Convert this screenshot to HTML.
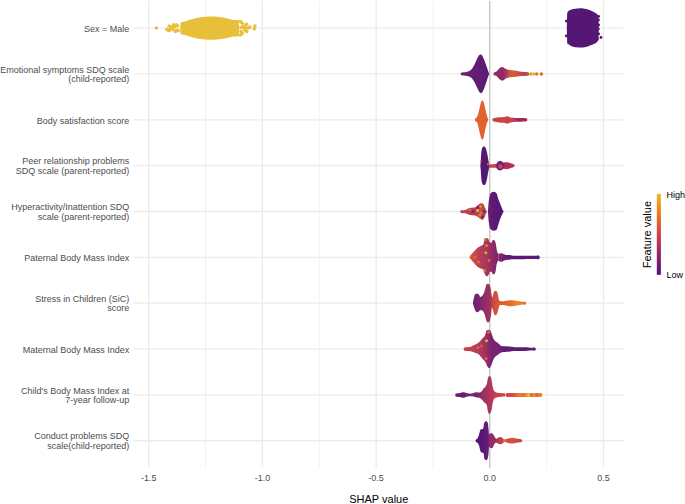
<!DOCTYPE html><html><head><meta charset="utf-8"><style>html,body{margin:0;padding:0;background:#fff;overflow:hidden;width:685px;height:504px;}svg{display:block;}text{font-family:"Liberation Sans",sans-serif;}.ax{font-size:9px;fill:#4d4d4d;}</style></head><body>
<svg width="685" height="504" viewBox="0 0 685 504">
<defs><linearGradient id="leg" x1="0" y1="1" x2="0" y2="0"><stop offset="0" stop-color="#521672"/><stop offset="0.083" stop-color="#641d72"/><stop offset="0.167" stop-color="#7f1e6c"/><stop offset="0.25" stop-color="#932667"/><stop offset="0.333" stop-color="#a82e5f"/><stop offset="0.417" stop-color="#bc3754"/><stop offset="0.5" stop-color="#cc4248"/><stop offset="0.583" stop-color="#dd513a"/><stop offset="0.667" stop-color="#e4622e"/><stop offset="0.75" stop-color="#ee781f"/><stop offset="0.833" stop-color="#f08e15"/><stop offset="0.917" stop-color="#eea520"/><stop offset="1" stop-color="#e8bf38"/></linearGradient><linearGradient id="g0" gradientUnits="userSpaceOnUse" x1="185" y1="0" x2="240" y2="0"><stop offset="0.000" stop-color="#e8bf38"/><stop offset="1.000" stop-color="#e8bf38"/></linearGradient><linearGradient id="g1" gradientUnits="userSpaceOnUse" x1="566" y1="0" x2="600" y2="0"><stop offset="0.000" stop-color="#541774"/><stop offset="1.000" stop-color="#541774"/></linearGradient><linearGradient id="g2" gradientUnits="userSpaceOnUse" x1="461" y1="0" x2="489" y2="0"><stop offset="0.000" stop-color="#6e2272"/><stop offset="0.321" stop-color="#66206f"/><stop offset="0.607" stop-color="#601c74"/><stop offset="1.000" stop-color="#5a1a76"/></linearGradient><linearGradient id="g3" gradientUnits="userSpaceOnUse" x1="494" y1="0" x2="529" y2="0"><stop offset="0.000" stop-color="#b0405a"/><stop offset="0.057" stop-color="#902a68"/><stop offset="0.257" stop-color="#8e2a6a"/><stop offset="0.371" stop-color="#b04054"/><stop offset="0.457" stop-color="#d45a3c"/><stop offset="0.600" stop-color="#d0583e"/><stop offset="0.714" stop-color="#c04c4c"/><stop offset="0.857" stop-color="#b24456"/><stop offset="1.000" stop-color="#c85045"/></linearGradient><linearGradient id="g4" gradientUnits="userSpaceOnUse" x1="475" y1="0" x2="488" y2="0"><stop offset="0.000" stop-color="#e4622e"/><stop offset="1.000" stop-color="#e4622e"/></linearGradient><linearGradient id="g5" gradientUnits="userSpaceOnUse" x1="493" y1="0" x2="527" y2="0"><stop offset="0.000" stop-color="#cc4248"/><stop offset="0.529" stop-color="#cc4248"/><stop offset="0.632" stop-color="#b83a55"/><stop offset="0.706" stop-color="#9c2a62"/><stop offset="1.000" stop-color="#a42a5e"/></linearGradient><linearGradient id="g6" gradientUnits="userSpaceOnUse" x1="480" y1="0" x2="490" y2="0"><stop offset="0.000" stop-color="#541774"/><stop offset="1.000" stop-color="#541774"/></linearGradient><linearGradient id="g7" gradientUnits="userSpaceOnUse" x1="489.5" y1="0" x2="514" y2="0"><stop offset="0.000" stop-color="#d04040"/><stop offset="0.245" stop-color="#d04040"/><stop offset="0.298" stop-color="#6a1e74"/><stop offset="0.429" stop-color="#6e2072"/><stop offset="0.551" stop-color="#6a1e74"/><stop offset="0.612" stop-color="#9a2c60"/><stop offset="0.673" stop-color="#b03058"/><stop offset="1.000" stop-color="#b83058"/></linearGradient><linearGradient id="g8" gradientUnits="userSpaceOnUse" x1="461" y1="0" x2="485" y2="0"><stop offset="0.000" stop-color="#c84048"/><stop offset="0.375" stop-color="#b83a54"/><stop offset="0.625" stop-color="#b83e52"/><stop offset="0.792" stop-color="#c8503e"/><stop offset="1.000" stop-color="#b04050"/></linearGradient><linearGradient id="g9" gradientUnits="userSpaceOnUse" x1="488" y1="0" x2="500" y2="0"><stop offset="0.000" stop-color="#6e2272"/><stop offset="0.333" stop-color="#5e1a74"/><stop offset="1.000" stop-color="#561774"/></linearGradient><linearGradient id="g10" gradientUnits="userSpaceOnUse" x1="470" y1="0" x2="498" y2="0"><stop offset="0.000" stop-color="#d85838"/><stop offset="0.143" stop-color="#cc4a45"/><stop offset="0.321" stop-color="#b8405a"/><stop offset="0.571" stop-color="#a8385e"/><stop offset="0.750" stop-color="#962e64"/><stop offset="0.893" stop-color="#842868"/><stop offset="1.000" stop-color="#822668"/></linearGradient><linearGradient id="g11" gradientUnits="userSpaceOnUse" x1="498" y1="0" x2="540" y2="0"><stop offset="0.000" stop-color="#8a2868"/><stop offset="0.167" stop-color="#6a1f74"/><stop offset="0.333" stop-color="#5a1876"/><stop offset="1.000" stop-color="#5e1a76"/></linearGradient><linearGradient id="g12" gradientUnits="userSpaceOnUse" x1="473" y1="0" x2="499" y2="0"><stop offset="0.000" stop-color="#762270"/><stop offset="0.269" stop-color="#7a2470"/><stop offset="0.423" stop-color="#8e2c66"/><stop offset="0.615" stop-color="#9a3260"/><stop offset="0.712" stop-color="#b03e52"/><stop offset="0.769" stop-color="#cc4a45"/><stop offset="1.000" stop-color="#d85a38"/></linearGradient><linearGradient id="g13" gradientUnits="userSpaceOnUse" x1="500" y1="0" x2="526" y2="0"><stop offset="0.000" stop-color="#e05a30"/><stop offset="0.385" stop-color="#e46a2c"/><stop offset="0.654" stop-color="#e8882a"/><stop offset="0.846" stop-color="#e87a2c"/><stop offset="1.000" stop-color="#e06a30"/></linearGradient><linearGradient id="g14" gradientUnits="userSpaceOnUse" x1="464" y1="0" x2="500" y2="0"><stop offset="0.000" stop-color="#c84048"/><stop offset="0.222" stop-color="#c44250"/><stop offset="0.417" stop-color="#b03a5c"/><stop offset="0.611" stop-color="#9c3062"/><stop offset="0.750" stop-color="#7a2470"/><stop offset="1.000" stop-color="#762270"/></linearGradient><linearGradient id="g15" gradientUnits="userSpaceOnUse" x1="499" y1="0" x2="536" y2="0"><stop offset="0.000" stop-color="#7a2470"/><stop offset="0.108" stop-color="#621c74"/><stop offset="1.000" stop-color="#5e1a76"/></linearGradient><linearGradient id="g16" gradientUnits="userSpaceOnUse" x1="456" y1="0" x2="505" y2="0"><stop offset="0.000" stop-color="#661e72"/><stop offset="0.245" stop-color="#6e2272"/><stop offset="0.449" stop-color="#7a2470"/><stop offset="0.551" stop-color="#9a2e64"/><stop offset="0.653" stop-color="#a83262"/><stop offset="0.735" stop-color="#b83a58"/><stop offset="0.816" stop-color="#c8404c"/><stop offset="1.000" stop-color="#cc4448"/></linearGradient><linearGradient id="g17" gradientUnits="userSpaceOnUse" x1="506" y1="0" x2="542" y2="0"><stop offset="0.000" stop-color="#d4404a"/><stop offset="0.250" stop-color="#d8484a"/><stop offset="0.306" stop-color="#e4702e"/><stop offset="0.583" stop-color="#e87e2c"/><stop offset="0.619" stop-color="#e8b834"/><stop offset="0.653" stop-color="#e8862c"/><stop offset="0.806" stop-color="#e0703a"/><stop offset="1.000" stop-color="#e07a30"/></linearGradient><linearGradient id="g18" gradientUnits="userSpaceOnUse" x1="476" y1="0" x2="489" y2="0"><stop offset="0.000" stop-color="#541578"/><stop offset="0.538" stop-color="#581878"/><stop offset="0.846" stop-color="#621c76"/><stop offset="1.000" stop-color="#661e74"/></linearGradient><linearGradient id="g19" gradientUnits="userSpaceOnUse" x1="489" y1="0" x2="522" y2="0"><stop offset="0.000" stop-color="#922a68"/><stop offset="0.182" stop-color="#962a68"/><stop offset="0.258" stop-color="#b83a58"/><stop offset="0.394" stop-color="#c04450"/><stop offset="0.470" stop-color="#e0802a"/><stop offset="0.515" stop-color="#d04a40"/><stop offset="0.758" stop-color="#d85040"/><stop offset="1.000" stop-color="#c03a50"/></linearGradient></defs>
<rect width="685" height="504" fill="#fff"/>
<line x1="205.55" y1="1.0" x2="205.55" y2="467.8" stroke="#f0f0f0" stroke-width="0.9"/>
<line x1="319.25" y1="1.0" x2="319.25" y2="467.8" stroke="#f0f0f0" stroke-width="0.9"/>
<line x1="432.95" y1="1.0" x2="432.95" y2="467.8" stroke="#f0f0f0" stroke-width="0.9"/>
<line x1="546.65" y1="1.0" x2="546.65" y2="467.8" stroke="#f0f0f0" stroke-width="0.9"/>
<line x1="148.70" y1="1.0" x2="148.70" y2="467.8" stroke="#ebebeb" stroke-width="1.3"/>
<line x1="262.40" y1="1.0" x2="262.40" y2="467.8" stroke="#ebebeb" stroke-width="1.3"/>
<line x1="376.10" y1="1.0" x2="376.10" y2="467.8" stroke="#ebebeb" stroke-width="1.3"/>
<line x1="603.50" y1="1.0" x2="603.50" y2="467.8" stroke="#ebebeb" stroke-width="1.3"/>
<line x1="134" y1="28.10" x2="623.5" y2="28.10" stroke="#ebebeb" stroke-width="1.3"/>
<line x1="134" y1="73.95" x2="623.5" y2="73.95" stroke="#ebebeb" stroke-width="1.3"/>
<line x1="134" y1="119.80" x2="623.5" y2="119.80" stroke="#ebebeb" stroke-width="1.3"/>
<line x1="134" y1="165.65" x2="623.5" y2="165.65" stroke="#ebebeb" stroke-width="1.3"/>
<line x1="134" y1="211.50" x2="623.5" y2="211.50" stroke="#ebebeb" stroke-width="1.3"/>
<line x1="134" y1="257.35" x2="623.5" y2="257.35" stroke="#ebebeb" stroke-width="1.3"/>
<line x1="134" y1="303.20" x2="623.5" y2="303.20" stroke="#ebebeb" stroke-width="1.3"/>
<line x1="134" y1="349.05" x2="623.5" y2="349.05" stroke="#ebebeb" stroke-width="1.3"/>
<line x1="134" y1="394.90" x2="623.5" y2="394.90" stroke="#ebebeb" stroke-width="1.3"/>
<line x1="134" y1="440.75" x2="623.5" y2="440.75" stroke="#ebebeb" stroke-width="1.3"/>
<line x1="489.80" y1="1.0" x2="489.80" y2="467.8" stroke="#bdbdbd" stroke-width="1.2"/>
<path d="M180.20,28.10 L180.55,23.08 L180.90,22.62 L181.25,22.43 L181.60,22.31 L181.95,22.22 L182.30,22.11 L182.65,22.01 L183.00,21.93 L183.35,21.86 L183.70,21.78 L184.05,21.69 L184.40,21.59 L184.75,21.49 L185.10,21.38 L185.45,21.28 L185.80,21.16 L186.15,21.05 L186.50,20.93 L186.85,20.80 L187.20,20.68 L187.55,20.55 L187.90,20.43 L188.25,20.31 L188.60,20.19 L188.95,20.08 L189.30,19.97 L189.65,19.85 L190.00,19.75 L190.35,19.64 L190.70,19.53 L191.05,19.43 L191.40,19.33 L191.75,19.23 L192.10,19.13 L192.45,19.03 L192.80,18.94 L193.15,18.84 L193.50,18.75 L193.85,18.66 L194.20,18.58 L194.55,18.49 L194.90,18.41 L195.25,18.33 L195.60,18.25 L195.95,18.17 L196.30,18.09 L196.65,18.02 L197.00,17.94 L197.35,17.87 L197.70,17.80 L198.05,17.73 L198.40,17.67 L198.75,17.60 L199.10,17.54 L199.45,17.48 L199.80,17.42 L200.15,17.37 L200.50,17.31 L200.85,17.26 L201.20,17.21 L201.55,17.16 L201.90,17.11 L202.25,17.06 L202.60,17.02 L202.95,16.98 L203.30,16.94 L203.65,16.90 L204.00,16.86 L204.35,16.83 L204.70,16.79 L205.05,16.76 L205.40,16.73 L205.75,16.70 L206.10,16.68 L206.45,16.65 L206.80,16.63 L207.15,16.61 L207.50,16.59 L207.85,16.57 L208.20,16.56 L208.55,16.54 L208.90,16.53 L209.25,16.52 L209.60,16.51 L209.95,16.51 L210.30,16.51 L210.65,16.51 L211.00,16.51 L211.35,16.51 L211.70,16.51 L212.05,16.51 L212.40,16.51 L212.75,16.52 L213.10,16.53 L213.45,16.54 L213.80,16.56 L214.15,16.57 L214.50,16.59 L214.85,16.61 L215.20,16.63 L215.55,16.65 L215.90,16.68 L216.25,16.70 L216.60,16.73 L216.95,16.76 L217.30,16.79 L217.65,16.83 L218.00,16.86 L218.35,16.90 L218.70,16.94 L219.05,16.98 L219.40,17.02 L219.75,17.06 L220.10,17.11 L220.45,17.16 L220.80,17.21 L221.15,17.26 L221.50,17.31 L221.85,17.37 L222.20,17.42 L222.55,17.48 L222.90,17.54 L223.25,17.60 L223.60,17.67 L223.95,17.73 L224.30,17.80 L224.65,17.87 L225.00,17.94 L225.35,18.02 L225.70,18.09 L226.05,18.17 L226.40,18.25 L226.75,18.33 L227.10,18.41 L227.45,18.49 L227.80,18.58 L228.15,18.66 L228.50,18.75 L228.85,18.84 L229.20,18.94 L229.55,19.03 L229.90,19.13 L230.25,19.23 L230.60,19.34 L230.95,19.45 L231.30,19.56 L231.65,19.66 L232.00,19.75 L232.35,19.83 L232.70,19.91 L233.05,19.99 L233.40,20.05 L233.75,20.09 L234.10,20.10 L234.45,20.10 L234.80,20.10 L235.15,20.10 L235.50,20.10 L235.85,20.10 L236.20,20.10 L236.55,20.10 L236.90,20.10 L237.25,20.10 L237.60,20.10 L237.95,20.10 L238.30,20.21 L238.65,20.61 L239.00,23.60 L239.30,28.10 L239.30,28.10 L239.00,32.88 L238.65,36.00 L238.30,36.32 L237.95,36.40 L237.60,36.40 L237.25,36.40 L236.90,36.40 L236.55,36.40 L236.20,36.40 L235.85,36.40 L235.50,36.40 L235.15,36.40 L234.80,36.40 L234.45,36.40 L234.10,36.40 L233.75,36.41 L233.40,36.43 L233.05,36.48 L232.70,36.54 L232.35,36.60 L232.00,36.66 L231.65,36.74 L231.30,36.83 L230.95,36.94 L230.60,37.05 L230.25,37.15 L229.90,37.25 L229.55,37.34 L229.20,37.43 L228.85,37.52 L228.50,37.61 L228.15,37.69 L227.80,37.77 L227.45,37.86 L227.10,37.94 L226.75,38.01 L226.40,38.09 L226.05,38.16 L225.70,38.24 L225.35,38.31 L225.00,38.38 L224.65,38.45 L224.30,38.51 L223.95,38.58 L223.60,38.64 L223.25,38.70 L222.90,38.76 L222.55,38.82 L222.20,38.87 L221.85,38.93 L221.50,38.98 L221.15,39.03 L220.80,39.08 L220.45,39.13 L220.10,39.17 L219.75,39.21 L219.40,39.26 L219.05,39.30 L218.70,39.34 L218.35,39.37 L218.00,39.41 L217.65,39.44 L217.30,39.47 L216.95,39.50 L216.60,39.53 L216.25,39.56 L215.90,39.58 L215.55,39.60 L215.20,39.63 L214.85,39.65 L214.50,39.67 L214.15,39.68 L213.80,39.69 L213.45,39.71 L213.10,39.72 L212.75,39.73 L212.40,39.74 L212.05,39.74 L211.70,39.74 L211.35,39.74 L211.00,39.74 L210.65,39.74 L210.30,39.74 L209.95,39.74 L209.60,39.74 L209.25,39.73 L208.90,39.72 L208.55,39.71 L208.20,39.69 L207.85,39.68 L207.50,39.67 L207.15,39.65 L206.80,39.63 L206.45,39.60 L206.10,39.58 L205.75,39.56 L205.40,39.53 L205.05,39.50 L204.70,39.47 L204.35,39.44 L204.00,39.41 L203.65,39.37 L203.30,39.34 L202.95,39.30 L202.60,39.26 L202.25,39.21 L201.90,39.17 L201.55,39.13 L201.20,39.08 L200.85,39.03 L200.50,38.98 L200.15,38.93 L199.80,38.87 L199.45,38.82 L199.10,38.76 L198.75,38.70 L198.40,38.64 L198.05,38.58 L197.70,38.51 L197.35,38.45 L197.00,38.38 L196.65,38.31 L196.30,38.24 L195.95,38.16 L195.60,38.09 L195.25,38.01 L194.90,37.94 L194.55,37.86 L194.20,37.77 L193.85,37.69 L193.50,37.61 L193.15,37.52 L192.80,37.43 L192.45,37.34 L192.10,37.25 L191.75,37.16 L191.40,37.06 L191.05,36.96 L190.70,36.87 L190.35,36.76 L190.00,36.66 L189.65,36.56 L189.30,36.45 L188.95,36.35 L188.60,36.24 L188.25,36.13 L187.90,36.01 L187.55,35.90 L187.20,35.77 L186.85,35.65 L186.50,35.53 L186.15,35.42 L185.80,35.32 L185.45,35.23 L185.10,35.15 L184.75,35.06 L184.40,34.99 L184.05,34.91 L183.70,34.84 L183.35,34.78 L183.00,34.72 L182.65,34.66 L182.30,34.58 L181.95,34.48 L181.60,34.38 L181.25,34.23 L180.90,33.96 L180.55,33.40 L180.20,28.10Z" fill="url(#g0)"/>
<path d="M566.80,28.10 L567.15,13.42 L567.50,12.17 L567.85,11.64 L568.20,11.33 L568.55,11.11 L568.90,10.85 L569.25,10.60 L569.60,10.37 L569.95,10.16 L570.30,9.97 L570.65,9.81 L571.00,9.67 L571.35,9.55 L571.70,9.44 L572.05,9.35 L572.40,9.26 L572.75,9.17 L573.10,9.09 L573.45,9.02 L573.80,8.95 L574.15,8.89 L574.50,8.83 L574.85,8.78 L575.20,8.73 L575.55,8.68 L575.90,8.64 L576.25,8.60 L576.60,8.57 L576.95,8.54 L577.30,8.51 L577.65,8.47 L578.00,8.44 L578.35,8.42 L578.70,8.39 L579.05,8.37 L579.40,8.35 L579.75,8.33 L580.10,8.32 L580.45,8.31 L580.80,8.30 L581.15,8.30 L581.50,8.31 L581.85,8.33 L582.20,8.35 L582.55,8.39 L582.90,8.42 L583.25,8.47 L583.60,8.52 L583.95,8.57 L584.30,8.63 L584.65,8.69 L585.00,8.75 L585.35,8.82 L585.70,8.88 L586.05,8.95 L586.40,9.03 L586.75,9.11 L587.10,9.21 L587.45,9.32 L587.80,9.43 L588.15,9.55 L588.50,9.68 L588.85,9.81 L589.20,9.94 L589.55,10.08 L589.90,10.22 L590.25,10.36 L590.60,10.50 L590.95,10.64 L591.30,10.80 L591.65,10.95 L592.00,11.12 L592.35,11.29 L592.70,11.47 L593.05,11.65 L593.40,11.84 L593.75,12.03 L594.10,12.23 L594.45,12.43 L594.80,12.62 L595.15,12.81 L595.50,13.00 L595.85,13.21 L596.20,13.44 L596.55,13.70 L596.90,14.00 L597.25,14.35 L597.60,14.71 L597.95,15.25 L598.30,16.21 L598.65,22.53 L598.80,28.10 L598.80,28.10 L598.65,33.67 L598.30,39.99 L597.95,40.95 L597.60,41.49 L597.25,41.85 L596.90,42.20 L596.55,42.51 L596.20,42.78 L595.85,43.02 L595.50,43.23 L595.15,43.42 L594.80,43.60 L594.45,43.77 L594.10,43.95 L593.75,44.11 L593.40,44.26 L593.05,44.40 L592.70,44.54 L592.35,44.67 L592.00,44.80 L591.65,44.92 L591.30,45.04 L590.95,45.17 L590.60,45.30 L590.25,45.43 L589.90,45.57 L589.55,45.72 L589.20,45.86 L588.85,46.00 L588.50,46.14 L588.15,46.28 L587.80,46.42 L587.45,46.54 L587.10,46.66 L586.75,46.77 L586.40,46.87 L586.05,46.95 L585.70,47.02 L585.35,47.08 L585.00,47.15 L584.65,47.21 L584.30,47.27 L583.95,47.33 L583.60,47.38 L583.25,47.43 L582.90,47.48 L582.55,47.52 L582.20,47.55 L581.85,47.57 L581.50,47.59 L581.15,47.60 L580.80,47.60 L580.45,47.59 L580.10,47.59 L579.75,47.57 L579.40,47.56 L579.05,47.54 L578.70,47.51 L578.35,47.49 L578.00,47.46 L577.65,47.43 L577.30,47.40 L576.95,47.36 L576.60,47.33 L576.25,47.29 L575.90,47.26 L575.55,47.21 L575.20,47.16 L574.85,47.10 L574.50,47.03 L574.15,46.96 L573.80,46.88 L573.45,46.80 L573.10,46.70 L572.75,46.61 L572.40,46.50 L572.05,46.39 L571.70,46.27 L571.35,46.14 L571.00,45.97 L570.65,45.75 L570.30,45.51 L569.95,45.24 L569.60,44.97 L569.25,44.70 L568.90,44.44 L568.55,44.21 L568.20,44.07 L567.85,43.93 L567.50,43.68 L567.15,42.84 L566.80,28.10Z" fill="url(#g1)"/>
<path d="M460.50,73.95 L460.85,73.32 L461.20,72.77 L461.55,72.54 L461.90,72.48 L462.25,72.44 L462.60,72.41 L462.95,72.39 L463.30,72.37 L463.65,72.35 L464.00,72.34 L464.35,72.31 L464.70,72.28 L465.05,72.24 L465.40,72.19 L465.75,72.13 L466.10,72.06 L466.45,71.98 L466.80,71.89 L467.15,71.80 L467.50,71.69 L467.85,71.58 L468.20,71.46 L468.55,71.33 L468.90,71.19 L469.25,71.02 L469.60,70.83 L469.95,70.61 L470.30,70.38 L470.65,70.12 L471.00,69.83 L471.35,69.52 L471.70,69.12 L472.05,68.67 L472.40,68.17 L472.75,67.63 L473.10,67.07 L473.45,66.50 L473.80,65.87 L474.15,65.19 L474.50,64.47 L474.85,63.73 L475.20,62.98 L475.55,62.25 L475.90,61.48 L476.25,60.68 L476.60,59.88 L476.95,59.09 L477.30,58.33 L477.65,57.64 L478.00,56.99 L478.35,56.35 L478.70,55.77 L479.05,55.30 L479.40,54.97 L479.75,54.68 L480.10,54.48 L480.45,54.46 L480.80,54.51 L481.15,54.60 L481.50,54.76 L481.85,55.15 L482.20,55.68 L482.55,56.27 L482.90,56.89 L483.25,57.62 L483.60,58.43 L483.95,59.29 L484.30,60.19 L484.65,61.08 L485.00,62.00 L485.35,62.96 L485.70,63.96 L486.05,64.96 L486.40,65.95 L486.75,66.93 L487.10,67.91 L487.45,68.90 L487.80,69.89 L488.15,70.89 L488.50,71.90 L488.85,72.92 L489.20,73.95 L489.20,73.95 L488.85,74.79 L488.50,75.68 L488.15,76.61 L487.80,77.61 L487.45,78.68 L487.10,79.78 L486.75,80.88 L486.40,81.95 L486.05,83.00 L485.70,84.04 L485.35,85.07 L485.00,86.07 L484.65,87.02 L484.30,87.93 L483.95,88.83 L483.60,89.69 L483.25,90.47 L482.90,91.15 L482.55,91.77 L482.20,92.34 L481.85,92.75 L481.50,92.94 L481.15,93.08 L480.80,93.15 L480.45,93.09 L480.10,92.84 L479.75,92.50 L479.40,92.12 L479.05,91.61 L478.70,90.98 L478.35,90.28 L478.00,89.56 L477.65,88.85 L477.30,88.12 L476.95,87.35 L476.60,86.55 L476.25,85.75 L475.90,84.98 L475.55,84.25 L475.20,83.56 L474.85,82.89 L474.50,82.23 L474.15,81.61 L473.80,81.01 L473.45,80.47 L473.10,79.97 L472.75,79.48 L472.40,79.01 L472.05,78.57 L471.70,78.18 L471.35,77.85 L471.00,77.58 L470.65,77.35 L470.30,77.13 L469.95,76.94 L469.60,76.77 L469.25,76.61 L468.90,76.48 L468.55,76.36 L468.20,76.27 L467.85,76.18 L467.50,76.10 L467.15,76.02 L466.80,75.95 L466.45,75.89 L466.10,75.83 L465.75,75.77 L465.40,75.72 L465.05,75.66 L464.70,75.60 L464.35,75.56 L464.00,75.53 L463.65,75.49 L463.30,75.46 L462.95,75.43 L462.60,75.38 L462.25,75.33 L461.90,75.26 L461.55,75.16 L461.20,74.94 L460.85,74.48 L460.50,73.95Z" fill="url(#g2)"/>
<path d="M493.30,73.95 L493.65,72.97 L494.00,72.48 L494.35,72.29 L494.70,72.17 L495.05,72.08 L495.40,72.00 L495.75,71.90 L496.10,71.75 L496.45,71.51 L496.80,71.19 L497.15,70.82 L497.50,70.42 L497.85,70.02 L498.20,69.65 L498.55,69.27 L498.90,68.87 L499.25,68.46 L499.60,68.10 L499.95,67.80 L500.30,67.60 L500.65,67.44 L501.00,67.29 L501.35,67.17 L501.70,67.09 L502.05,67.05 L502.40,67.08 L502.75,67.20 L503.10,67.37 L503.45,67.57 L503.80,67.78 L504.15,67.98 L504.50,68.14 L504.85,68.32 L505.20,68.49 L505.55,68.67 L505.90,68.83 L506.25,68.99 L506.60,69.13 L506.95,69.27 L507.30,69.41 L507.65,69.54 L508.00,69.65 L508.35,69.75 L508.70,69.83 L509.05,69.89 L509.40,69.94 L509.75,69.98 L510.10,70.02 L510.45,70.05 L510.80,70.08 L511.15,70.11 L511.50,70.15 L511.85,70.18 L512.20,70.21 L512.55,70.26 L512.90,70.30 L513.25,70.35 L513.60,70.39 L513.95,70.44 L514.30,70.49 L514.65,70.54 L515.00,70.59 L515.35,70.65 L515.70,70.70 L516.05,70.76 L516.40,70.82 L516.75,70.88 L517.10,70.95 L517.45,71.02 L517.80,71.10 L518.15,71.18 L518.50,71.26 L518.85,71.34 L519.20,71.41 L519.55,71.48 L519.90,71.54 L520.25,71.58 L520.60,71.63 L520.95,71.67 L521.30,71.71 L521.65,71.74 L522.00,71.78 L522.35,71.81 L522.70,71.84 L523.05,71.87 L523.40,71.90 L523.75,71.93 L524.10,71.96 L524.45,71.98 L524.80,72.00 L525.15,72.02 L525.50,72.03 L525.85,72.04 L526.20,72.06 L526.55,72.07 L526.90,72.09 L527.25,72.12 L527.60,72.15 L527.95,72.19 L528.30,72.23 L528.65,72.42 L529.00,72.96 L529.35,73.66 L529.50,73.95 L529.50,73.95 L529.35,74.24 L529.00,74.94 L528.65,75.48 L528.30,75.67 L527.95,75.71 L527.60,75.75 L527.25,75.79 L526.90,75.82 L526.55,75.84 L526.20,75.86 L525.85,75.87 L525.50,75.89 L525.15,75.90 L524.80,75.91 L524.45,75.93 L524.10,75.94 L523.75,75.96 L523.40,75.98 L523.05,76.00 L522.70,76.01 L522.35,76.03 L522.00,76.04 L521.65,76.06 L521.30,76.07 L520.95,76.09 L520.60,76.11 L520.25,76.13 L519.90,76.16 L519.55,76.19 L519.20,76.24 L518.85,76.29 L518.50,76.35 L518.15,76.41 L517.80,76.47 L517.45,76.53 L517.10,76.58 L516.75,76.63 L516.40,76.67 L516.05,76.71 L515.70,76.75 L515.35,76.78 L515.00,76.82 L514.65,76.85 L514.30,76.88 L513.95,76.91 L513.60,76.94 L513.25,76.98 L512.90,77.01 L512.55,77.04 L512.20,77.08 L511.85,77.11 L511.50,77.14 L511.15,77.17 L510.80,77.21 L510.45,77.24 L510.10,77.27 L509.75,77.31 L509.40,77.36 L509.05,77.41 L508.70,77.47 L508.35,77.54 L508.00,77.64 L507.65,77.75 L507.30,77.88 L506.95,78.01 L506.60,78.16 L506.25,78.32 L505.90,78.53 L505.55,78.77 L505.20,79.03 L504.85,79.29 L504.50,79.53 L504.15,79.74 L503.80,79.97 L503.45,80.20 L503.10,80.41 L502.75,80.57 L502.40,80.65 L502.05,80.63 L501.70,80.53 L501.35,80.37 L501.00,80.17 L500.65,79.94 L500.30,79.71 L499.95,79.48 L499.60,79.20 L499.25,78.88 L498.90,78.54 L498.55,78.19 L498.20,77.85 L497.85,77.48 L497.50,77.06 L497.15,76.63 L496.80,76.24 L496.45,75.93 L496.10,75.75 L495.75,75.67 L495.40,75.61 L495.05,75.58 L494.70,75.54 L494.35,75.49 L494.00,75.39 L493.65,74.96 L493.30,73.95Z" fill="url(#g3)"/>
<path d="M474.80,119.80 L475.15,118.86 L475.50,118.20 L475.85,117.88 L476.20,117.66 L476.55,117.44 L476.90,117.07 L477.25,116.42 L477.60,115.55 L477.95,114.55 L478.30,113.45 L478.65,112.11 L479.00,110.62 L479.35,109.11 L479.70,107.55 L480.05,105.88 L480.40,104.30 L480.75,103.04 L481.10,102.03 L481.45,101.28 L481.80,100.78 L482.15,100.44 L482.50,100.44 L482.85,100.67 L483.20,101.03 L483.55,101.79 L483.90,102.81 L484.25,104.14 L484.60,105.71 L484.95,107.34 L485.30,108.88 L485.65,110.47 L486.00,112.04 L486.35,113.50 L486.70,114.85 L487.05,116.14 L487.40,117.32 L487.75,118.33 L488.10,119.18 L488.40,119.80 L488.40,119.80 L488.10,120.31 L487.75,120.99 L487.40,121.78 L487.05,122.66 L486.70,123.65 L486.35,124.77 L486.00,126.13 L485.65,127.71 L485.30,129.36 L484.95,131.01 L484.60,132.77 L484.25,134.55 L483.90,136.18 L483.55,137.69 L483.20,138.93 L482.85,139.34 L482.50,139.56 L482.15,139.56 L481.80,139.23 L481.45,138.72 L481.10,137.87 L480.75,136.76 L480.40,135.59 L480.05,134.27 L479.70,132.86 L479.35,131.38 L479.00,129.70 L478.65,127.91 L478.30,126.27 L477.95,124.98 L477.60,123.79 L477.25,122.77 L476.90,122.10 L476.55,121.85 L476.20,121.72 L475.85,121.61 L475.50,121.40 L475.15,120.78 L474.80,119.80Z" fill="url(#g4)"/>
<path d="M492.20,119.80 L492.55,119.00 L492.90,118.50 L493.25,118.34 L493.60,118.22 L493.95,118.14 L494.30,118.07 L494.65,118.01 L495.00,117.94 L495.35,117.87 L495.70,117.81 L496.05,117.75 L496.40,117.68 L496.75,117.62 L497.10,117.57 L497.45,117.51 L497.80,117.46 L498.15,117.41 L498.50,117.37 L498.85,117.33 L499.20,117.29 L499.55,117.26 L499.90,117.23 L500.25,117.21 L500.60,117.20 L500.95,117.18 L501.30,117.17 L501.65,117.16 L502.00,117.16 L502.35,117.15 L502.70,117.14 L503.05,117.14 L503.40,117.12 L503.75,117.11 L504.10,117.09 L504.45,117.05 L504.80,116.97 L505.15,116.87 L505.50,116.76 L505.85,116.64 L506.20,116.53 L506.55,116.44 L506.90,116.36 L507.25,116.31 L507.60,116.30 L507.95,116.36 L508.30,116.47 L508.65,116.63 L509.00,116.81 L509.35,116.99 L509.70,117.16 L510.05,117.30 L510.40,117.40 L510.75,117.46 L511.10,117.53 L511.45,117.58 L511.80,117.64 L512.15,117.69 L512.50,117.73 L512.85,117.78 L513.20,117.81 L513.55,117.84 L513.90,117.87 L514.25,117.89 L514.60,117.90 L514.95,117.92 L515.30,117.93 L515.65,117.94 L516.00,117.94 L516.35,117.95 L516.70,117.96 L517.05,117.96 L517.40,117.97 L517.75,117.98 L518.10,117.98 L518.45,117.99 L518.80,117.99 L519.15,118.00 L519.50,118.01 L519.85,118.01 L520.20,118.02 L520.55,118.02 L520.90,118.02 L521.25,118.03 L521.60,118.03 L521.95,118.03 L522.30,118.04 L522.65,118.04 L523.00,118.05 L523.35,118.05 L523.70,118.06 L524.05,118.07 L524.40,118.08 L524.75,118.09 L525.10,118.10 L525.45,118.13 L525.80,118.18 L526.15,118.26 L526.50,118.37 L526.85,118.54 L527.20,119.25 L527.40,119.80 L527.40,119.80 L527.20,120.35 L526.85,121.06 L526.50,121.22 L526.15,121.33 L525.80,121.41 L525.45,121.46 L525.10,121.49 L524.75,121.52 L524.40,121.54 L524.05,121.55 L523.70,121.57 L523.35,121.58 L523.00,121.60 L522.65,121.61 L522.30,121.62 L521.95,121.63 L521.60,121.63 L521.25,121.64 L520.90,121.65 L520.55,121.66 L520.20,121.67 L519.85,121.68 L519.50,121.69 L519.15,121.70 L518.80,121.71 L518.45,121.73 L518.10,121.74 L517.75,121.75 L517.40,121.76 L517.05,121.77 L516.70,121.79 L516.35,121.80 L516.00,121.82 L515.65,121.83 L515.30,121.85 L514.95,121.87 L514.60,121.89 L514.25,121.92 L513.90,121.95 L513.55,121.99 L513.20,122.04 L512.85,122.10 L512.50,122.16 L512.15,122.22 L511.80,122.29 L511.45,122.36 L511.10,122.44 L510.75,122.52 L510.40,122.60 L510.05,122.70 L509.70,122.84 L509.35,123.00 L509.00,123.16 L508.65,123.32 L508.30,123.45 L507.95,123.55 L507.60,123.60 L507.25,123.59 L506.90,123.55 L506.55,123.47 L506.20,123.38 L505.85,123.27 L505.50,123.16 L505.15,123.05 L504.80,122.95 L504.45,122.87 L504.10,122.81 L503.75,122.78 L503.40,122.75 L503.05,122.73 L502.70,122.72 L502.35,122.70 L502.00,122.68 L501.65,122.67 L501.30,122.65 L500.95,122.63 L500.60,122.61 L500.25,122.58 L499.90,122.55 L499.55,122.51 L499.20,122.47 L498.85,122.43 L498.50,122.39 L498.15,122.34 L497.80,122.29 L497.45,122.23 L497.10,122.17 L496.75,122.11 L496.40,122.05 L496.05,121.98 L495.70,121.91 L495.35,121.84 L495.00,121.77 L494.65,121.69 L494.30,121.61 L493.95,121.53 L493.60,121.43 L493.25,121.29 L492.90,121.10 L492.55,120.59 L492.20,119.80Z" fill="url(#g5)"/>
<path d="M480.30,165.65 L480.65,162.80 L481.00,156.51 L481.35,151.97 L481.70,149.65 L482.05,148.32 L482.40,147.48 L482.75,147.10 L483.10,146.80 L483.45,146.59 L483.80,146.47 L484.15,146.47 L484.50,146.61 L484.85,146.88 L485.20,147.25 L485.55,147.68 L485.90,148.36 L486.25,149.49 L486.60,150.89 L486.95,152.36 L487.30,154.07 L487.65,156.03 L488.00,158.05 L488.35,159.97 L488.70,161.90 L489.05,163.71 L489.40,165.25 L489.50,165.65 L489.50,165.65 L489.40,166.22 L489.05,168.11 L488.70,169.78 L488.35,171.41 L488.00,173.20 L487.65,175.18 L487.30,177.16 L486.95,178.93 L486.60,180.51 L486.25,182.05 L485.90,183.31 L485.55,184.01 L485.20,184.42 L484.85,184.76 L484.50,185.01 L484.15,185.14 L483.80,185.12 L483.45,184.95 L483.10,184.66 L482.75,184.27 L482.40,183.80 L482.05,182.96 L481.70,181.65 L481.35,179.33 L481.00,174.79 L480.65,168.50 L480.30,165.65Z" fill="url(#g6)"/>
<path d="M489.30,164.15 L489.65,164.15 L490.00,164.15 L490.35,164.15 L490.70,164.15 L491.05,164.15 L491.40,164.15 L491.75,164.15 L492.10,164.15 L492.45,164.15 L492.80,164.15 L493.15,164.14 L493.50,164.14 L493.85,164.13 L494.20,164.12 L494.55,164.11 L494.90,164.10 L495.25,164.09 L495.60,164.07 L495.95,164.05 L496.30,163.88 L496.65,163.40 L497.00,162.81 L497.35,162.30 L497.70,162.00 L498.05,161.73 L498.40,161.48 L498.75,161.26 L499.10,161.08 L499.45,160.94 L499.80,160.86 L500.15,160.86 L500.50,160.91 L500.85,161.01 L501.20,161.15 L501.55,161.32 L501.90,161.51 L502.25,161.71 L502.60,161.92 L502.95,162.27 L503.30,162.58 L503.65,162.64 L504.00,162.59 L504.35,162.50 L504.70,162.41 L505.05,162.34 L505.40,162.29 L505.75,162.24 L506.10,162.19 L506.45,162.16 L506.80,162.15 L507.15,162.17 L507.50,162.23 L507.85,162.31 L508.20,162.41 L508.55,162.52 L508.90,162.62 L509.25,162.73 L509.60,162.85 L509.95,162.98 L510.30,163.11 L510.65,163.25 L511.00,163.38 L511.35,163.50 L511.70,163.59 L512.05,163.68 L512.40,163.76 L512.75,163.86 L513.10,163.97 L513.45,164.13 L513.80,164.37 L514.15,164.75 L514.50,165.22 L514.80,165.65 L514.80,165.65 L514.50,166.08 L514.15,166.55 L513.80,166.93 L513.45,167.17 L513.10,167.33 L512.75,167.44 L512.40,167.54 L512.05,167.62 L511.70,167.71 L511.35,167.80 L511.00,167.92 L510.65,168.05 L510.30,168.19 L509.95,168.32 L509.60,168.45 L509.25,168.57 L508.90,168.68 L508.55,168.78 L508.20,168.89 L507.85,168.99 L507.50,169.07 L507.15,169.13 L506.80,169.15 L506.45,169.14 L506.10,169.11 L505.75,169.06 L505.40,169.01 L505.05,168.96 L504.70,168.89 L504.35,168.80 L504.00,168.71 L503.65,168.66 L503.30,168.72 L502.95,169.03 L502.60,169.38 L502.25,169.59 L501.90,169.79 L501.55,169.98 L501.20,170.15 L500.85,170.29 L500.50,170.39 L500.15,170.44 L499.80,170.44 L499.45,170.39 L499.10,170.28 L498.75,170.15 L498.40,169.98 L498.05,169.78 L497.70,169.57 L497.35,169.32 L497.00,168.84 L496.65,168.27 L496.30,167.81 L495.95,167.65 L495.60,167.65 L495.25,167.65 L494.90,167.65 L494.55,167.65 L494.20,167.65 L493.85,167.65 L493.50,167.65 L493.15,167.65 L492.80,167.65 L492.45,167.65 L492.10,167.65 L491.75,167.65 L491.40,167.65 L491.05,167.65 L490.70,167.65 L490.35,167.65 L490.00,167.65 L489.65,167.65 L489.30,167.65Z" fill="url(#g7)"/>
<path d="M460.00,211.50 L460.35,210.93 L460.70,210.44 L461.05,210.20 L461.40,210.20 L461.75,210.20 L462.10,210.20 L462.45,210.20 L462.80,210.20 L463.15,210.20 L463.50,210.19 L463.85,210.16 L464.20,210.12 L464.55,210.06 L464.90,209.99 L465.25,209.91 L465.60,209.82 L465.95,209.72 L466.30,209.58 L466.65,209.39 L467.00,209.18 L467.35,208.97 L467.70,208.77 L468.05,208.60 L468.40,208.47 L468.75,208.35 L469.10,208.23 L469.45,208.12 L469.80,208.02 L470.15,207.92 L470.50,207.84 L470.85,207.77 L471.20,207.72 L471.55,207.69 L471.90,207.66 L472.25,207.64 L472.60,207.63 L472.95,207.62 L473.30,207.61 L473.65,207.60 L474.00,207.58 L474.35,207.56 L474.70,207.53 L475.05,207.49 L475.40,207.33 L475.75,207.05 L476.10,206.69 L476.45,206.34 L476.80,206.02 L477.15,205.68 L477.50,205.33 L477.85,204.99 L478.20,204.68 L478.55,204.43 L478.90,204.22 L479.25,204.01 L479.60,203.82 L479.95,203.64 L480.30,203.49 L480.65,203.37 L481.00,203.31 L481.35,203.30 L481.70,203.34 L482.05,203.41 L482.40,203.51 L482.75,203.64 L483.10,203.80 L483.45,204.04 L483.80,204.72 L484.15,205.70 L484.50,206.74 L484.85,207.61 L485.20,208.36 L485.55,209.09 L485.90,209.79 L486.25,210.40 L486.60,210.90 L486.95,211.28 L487.20,211.50 L487.20,211.50 L486.95,211.81 L486.60,212.33 L486.25,212.92 L485.90,213.63 L485.55,214.55 L485.20,215.59 L484.85,216.60 L484.50,217.44 L484.15,218.03 L483.80,218.55 L483.45,219.04 L483.10,219.45 L482.75,219.75 L482.40,219.89 L482.05,219.87 L481.70,219.76 L481.35,219.57 L481.00,219.35 L480.65,219.10 L480.30,218.86 L479.95,218.63 L479.60,218.37 L479.25,218.09 L478.90,217.80 L478.55,217.50 L478.20,217.22 L477.85,216.96 L477.50,216.74 L477.15,216.52 L476.80,216.30 L476.45,216.09 L476.10,215.89 L475.75,215.73 L475.40,215.59 L475.05,215.51 L474.70,215.46 L474.35,215.42 L474.00,215.39 L473.65,215.37 L473.30,215.35 L472.95,215.33 L472.60,215.31 L472.25,215.28 L471.90,215.25 L471.55,215.22 L471.20,215.17 L470.85,215.11 L470.50,215.04 L470.15,214.95 L469.80,214.86 L469.45,214.76 L469.10,214.65 L468.75,214.54 L468.40,214.43 L468.05,214.31 L467.70,214.17 L467.35,214.01 L467.00,213.85 L466.65,213.69 L466.30,213.56 L465.95,213.45 L465.60,213.39 L465.25,213.34 L464.90,213.31 L464.55,213.28 L464.20,213.26 L463.85,213.25 L463.50,213.23 L463.15,213.22 L462.80,213.20 L462.45,213.18 L462.10,213.14 L461.75,213.11 L461.40,213.05 L461.05,212.99 L460.70,212.67 L460.35,212.11 L460.00,211.50Z" fill="url(#g8)"/>
<path d="M487.90,211.50 L488.25,206.82 L488.60,202.30 L488.95,199.72 L489.30,197.68 L489.65,196.13 L490.00,195.01 L490.35,194.08 L490.70,193.33 L491.05,192.82 L491.40,192.58 L491.75,192.39 L492.10,192.22 L492.45,192.08 L492.80,191.96 L493.15,191.88 L493.50,191.82 L493.85,191.80 L494.20,191.82 L494.55,191.90 L494.90,192.03 L495.25,192.21 L495.60,192.44 L495.95,192.71 L496.30,193.01 L496.65,193.41 L497.00,194.32 L497.35,195.61 L497.70,197.03 L498.05,198.34 L498.40,199.35 L498.75,200.23 L499.10,201.07 L499.45,201.88 L499.80,202.71 L500.15,203.58 L500.50,204.51 L500.85,205.45 L501.20,206.37 L501.55,207.25 L501.90,208.06 L502.25,208.86 L502.60,209.63 L502.95,210.32 L503.30,210.90 L503.65,211.34 L503.80,211.50 L503.80,211.50 L503.65,211.66 L503.30,212.10 L502.95,212.68 L502.60,213.39 L502.25,214.16 L501.90,214.95 L501.55,215.73 L501.20,216.50 L500.85,217.30 L500.50,218.13 L500.15,219.00 L499.80,219.96 L499.45,221.01 L499.10,222.14 L498.75,223.28 L498.40,224.39 L498.05,225.47 L497.70,226.67 L497.35,227.89 L497.00,228.94 L496.65,229.65 L496.30,229.93 L495.95,230.13 L495.60,230.30 L495.25,230.44 L494.90,230.56 L494.55,230.64 L494.20,230.69 L493.85,230.70 L493.50,230.68 L493.15,230.62 L492.80,230.53 L492.45,230.42 L492.10,230.27 L491.75,230.11 L491.40,229.92 L491.05,229.69 L490.70,229.29 L490.35,228.70 L490.00,227.94 L489.65,226.94 L489.30,225.40 L488.95,223.31 L488.60,220.70 L488.25,216.18 L487.90,211.50Z" fill="url(#g9)"/>
<path d="M469.50,257.35 L469.85,256.46 L470.20,255.78 L470.55,255.27 L470.90,254.83 L471.25,254.44 L471.60,254.03 L471.95,253.65 L472.30,253.28 L472.65,252.92 L473.00,252.55 L473.35,252.18 L473.70,251.81 L474.05,251.44 L474.40,251.07 L474.75,250.70 L475.10,250.30 L475.45,249.89 L475.80,249.49 L476.15,249.10 L476.50,248.75 L476.85,248.43 L477.20,248.12 L477.55,247.83 L477.90,247.56 L478.25,247.32 L478.60,247.10 L478.95,246.90 L479.30,246.72 L479.65,246.54 L480.00,246.37 L480.35,246.19 L480.70,246.01 L481.05,245.82 L481.40,245.67 L481.75,245.52 L482.10,245.37 L482.45,245.18 L482.80,244.93 L483.15,244.60 L483.50,243.72 L483.85,242.02 L484.20,240.40 L484.55,239.61 L484.90,239.08 L485.25,238.65 L485.60,238.33 L485.95,238.17 L486.30,238.15 L486.65,238.17 L487.00,238.19 L487.35,238.24 L487.70,238.29 L488.05,238.37 L488.40,238.98 L488.75,240.07 L489.10,241.17 L489.45,241.80 L489.80,242.14 L490.15,242.45 L490.50,242.69 L490.85,242.86 L491.20,242.95 L491.55,242.65 L491.90,241.65 L492.25,240.80 L492.60,240.51 L492.95,240.28 L493.30,240.12 L493.65,240.05 L494.00,240.12 L494.35,240.35 L494.70,240.71 L495.05,241.18 L495.40,242.05 L495.75,243.63 L496.10,245.45 L496.45,247.82 L496.80,250.34 L497.15,251.68 L497.50,252.61 L497.85,253.34 L498.20,253.81 L498.50,253.95 L498.50,260.75 L498.20,260.87 L497.85,261.20 L497.50,261.73 L497.15,262.62 L496.80,263.79 L496.45,265.32 L496.10,267.98 L495.75,270.56 L495.40,271.91 L495.05,272.95 L494.70,273.76 L494.35,274.20 L494.00,274.25 L493.65,274.22 L493.30,274.16 L492.95,274.09 L492.60,273.89 L492.25,273.26 L491.90,272.46 L491.55,271.82 L491.20,271.65 L490.85,271.71 L490.50,271.83 L490.15,272.01 L489.80,272.24 L489.45,272.87 L489.10,273.77 L488.75,274.63 L488.40,275.17 L488.05,275.57 L487.70,275.91 L487.35,276.16 L487.00,276.25 L486.65,276.18 L486.30,276.01 L485.95,275.75 L485.60,275.45 L485.25,274.97 L484.90,274.25 L484.55,273.41 L484.20,272.48 L483.85,271.24 L483.50,270.10 L483.15,269.51 L482.80,269.28 L482.45,269.11 L482.10,268.98 L481.75,268.87 L481.40,268.77 L481.05,268.65 L480.70,268.50 L480.35,268.35 L480.00,268.19 L479.65,268.03 L479.30,267.86 L478.95,267.68 L478.60,267.49 L478.25,267.28 L477.90,267.05 L477.55,266.78 L477.20,266.49 L476.85,266.18 L476.50,265.85 L476.15,265.48 L475.80,265.08 L475.45,264.65 L475.10,264.22 L474.75,263.81 L474.40,263.43 L474.05,263.07 L473.70,262.71 L473.35,262.35 L473.00,261.95 L472.65,261.49 L472.30,261.00 L471.95,260.53 L471.60,260.15 L471.25,259.85 L470.90,259.58 L470.55,259.28 L470.20,258.89 L469.85,258.26 L469.50,257.35Z" fill="url(#g10)"/>
<path d="M498.40,254.05 L498.75,253.87 L499.10,253.72 L499.45,253.60 L499.80,253.51 L500.15,253.44 L500.50,253.40 L500.85,253.37 L501.20,253.36 L501.55,253.35 L501.90,253.35 L502.25,253.38 L502.60,253.52 L502.95,253.73 L503.30,253.97 L503.65,254.19 L504.00,254.35 L504.35,254.47 L504.70,254.58 L505.05,254.69 L505.40,254.79 L505.75,254.87 L506.10,254.92 L506.45,254.95 L506.80,254.97 L507.15,254.98 L507.50,254.99 L507.85,255.00 L508.20,255.00 L508.55,255.01 L508.90,255.02 L509.25,255.03 L509.60,255.05 L509.95,255.07 L510.30,255.12 L510.65,255.19 L511.00,255.27 L511.35,255.36 L511.70,255.45 L512.05,255.53 L512.40,255.59 L512.75,255.64 L513.10,255.65 L513.45,255.66 L513.80,255.67 L514.15,255.67 L514.50,255.68 L514.85,255.69 L515.20,255.69 L515.55,255.70 L515.90,255.70 L516.25,255.71 L516.60,255.71 L516.95,255.72 L517.30,255.72 L517.65,255.72 L518.00,255.73 L518.35,255.73 L518.70,255.73 L519.05,255.74 L519.40,255.74 L519.75,255.74 L520.10,255.74 L520.45,255.74 L520.80,255.75 L521.15,255.75 L521.50,255.75 L521.85,255.75 L522.20,255.75 L522.55,255.75 L522.90,255.75 L523.25,255.75 L523.60,255.75 L523.95,255.75 L524.30,255.75 L524.65,255.75 L525.00,255.75 L525.35,255.75 L525.70,255.75 L526.05,255.75 L526.40,255.75 L526.75,255.75 L527.10,255.75 L527.45,255.75 L527.80,255.75 L528.15,255.75 L528.50,255.75 L528.85,255.75 L529.20,255.75 L529.55,255.75 L529.90,255.75 L530.25,255.75 L530.60,255.75 L530.95,255.75 L531.30,255.75 L531.65,255.74 L532.00,255.74 L532.35,255.74 L532.70,255.73 L533.05,255.73 L533.40,255.72 L533.75,255.72 L534.10,255.71 L534.45,255.70 L534.80,255.70 L535.15,255.69 L535.50,255.68 L535.85,255.67 L536.20,255.66 L536.55,255.65 L536.90,255.61 L537.25,255.55 L537.60,255.47 L537.95,255.40 L538.30,255.36 L538.65,255.38 L539.00,255.65 L539.35,256.14 L539.70,256.76 L540.00,257.35 L540.00,257.35 L539.70,257.94 L539.35,258.56 L539.00,259.05 L538.65,259.32 L538.30,259.34 L537.95,259.29 L537.60,259.22 L537.25,259.14 L536.90,259.08 L536.55,259.05 L536.20,259.05 L535.85,259.05 L535.50,259.05 L535.15,259.05 L534.80,259.05 L534.45,259.05 L534.10,259.05 L533.75,259.05 L533.40,259.05 L533.05,259.05 L532.70,259.05 L532.35,259.05 L532.00,259.05 L531.65,259.05 L531.30,259.05 L530.95,259.05 L530.60,259.05 L530.25,259.05 L529.90,259.05 L529.55,259.05 L529.20,259.05 L528.85,259.06 L528.50,259.06 L528.15,259.07 L527.80,259.07 L527.45,259.08 L527.10,259.09 L526.75,259.10 L526.40,259.10 L526.05,259.11 L525.70,259.12 L525.35,259.13 L525.00,259.13 L524.65,259.14 L524.30,259.14 L523.95,259.15 L523.60,259.15 L523.25,259.15 L522.90,259.15 L522.55,259.15 L522.20,259.15 L521.85,259.15 L521.50,259.15 L521.15,259.15 L520.80,259.15 L520.45,259.15 L520.10,259.15 L519.75,259.15 L519.40,259.15 L519.05,259.15 L518.70,259.15 L518.35,259.15 L518.00,259.15 L517.65,259.15 L517.30,259.15 L516.95,259.15 L516.60,259.15 L516.25,259.15 L515.90,259.15 L515.55,259.15 L515.20,259.15 L514.85,259.15 L514.50,259.15 L514.15,259.15 L513.80,259.15 L513.45,259.15 L513.10,259.15 L512.75,259.16 L512.40,259.18 L512.05,259.23 L511.70,259.29 L511.35,259.35 L511.00,259.42 L510.65,259.49 L510.30,259.56 L509.95,259.62 L509.60,259.66 L509.25,259.70 L508.90,259.73 L508.55,259.75 L508.20,259.78 L507.85,259.81 L507.50,259.83 L507.15,259.86 L506.80,259.90 L506.45,259.94 L506.10,260.00 L505.75,260.06 L505.40,260.14 L505.05,260.22 L504.70,260.32 L504.35,260.43 L504.00,260.55 L503.65,260.73 L503.30,260.99 L502.95,261.28 L502.60,261.54 L502.25,261.71 L501.90,261.75 L501.55,261.75 L501.20,261.73 L500.85,261.71 L500.50,261.66 L500.15,261.59 L499.80,261.48 L499.45,261.34 L499.10,261.16 L498.75,260.93 L498.40,260.65Z" fill="url(#g11)"/>
<path d="M472.90,303.20 L473.25,300.44 L473.60,299.09 L473.95,297.78 L474.30,296.17 L474.65,294.88 L475.00,294.38 L475.35,294.06 L475.70,293.83 L476.05,293.71 L476.40,293.71 L476.75,293.74 L477.10,293.80 L477.45,293.87 L477.80,293.95 L478.15,294.08 L478.50,294.25 L478.85,294.48 L479.20,294.89 L479.55,295.78 L479.90,296.67 L480.25,297.00 L480.60,296.93 L480.95,296.77 L481.30,296.55 L481.65,296.29 L482.00,296.02 L482.35,295.65 L482.70,295.19 L483.05,294.63 L483.40,294.00 L483.75,293.30 L484.10,292.48 L484.45,291.43 L484.80,290.26 L485.15,289.07 L485.50,287.73 L485.85,286.20 L486.20,284.97 L486.55,284.45 L486.90,284.13 L487.25,283.89 L487.60,283.74 L487.95,283.70 L488.30,283.77 L488.65,283.92 L489.00,284.16 L489.35,284.46 L489.70,284.90 L490.05,285.83 L490.40,287.13 L490.75,288.63 L491.10,290.96 L491.45,293.63 L491.80,295.56 L492.15,297.06 L492.50,297.42 L492.85,296.21 L493.20,294.33 L493.55,292.83 L493.90,292.09 L494.25,291.54 L494.60,291.23 L494.95,291.02 L495.30,290.87 L495.65,290.80 L496.00,290.85 L496.35,291.04 L496.70,291.35 L497.05,291.74 L497.40,292.54 L497.75,294.00 L498.10,295.60 L498.45,297.46 L498.80,299.30 L499.15,300.14 L499.50,300.63 L499.85,301.00 L500.20,301.23 L500.50,301.30 L500.50,305.00 L500.20,305.07 L499.85,305.29 L499.50,305.60 L499.15,306.32 L498.80,307.56 L498.45,309.00 L498.10,310.30 L497.75,311.55 L497.40,312.87 L497.05,313.98 L496.70,314.60 L496.35,314.86 L496.00,315.08 L495.65,315.23 L495.30,315.30 L494.95,315.20 L494.60,314.80 L494.25,314.17 L493.90,313.42 L493.55,312.44 L493.20,311.00 L492.85,309.75 L492.50,308.64 L492.15,307.74 L491.80,307.72 L491.45,310.93 L491.10,314.89 L490.75,316.94 L490.40,318.62 L490.05,319.99 L489.70,320.96 L489.35,321.49 L489.00,321.88 L488.65,322.19 L488.30,322.41 L487.95,322.50 L487.60,322.41 L487.25,322.11 L486.90,321.64 L486.55,321.07 L486.20,320.29 L485.85,318.90 L485.50,317.29 L485.15,315.94 L484.80,314.80 L484.45,313.75 L484.10,312.90 L483.75,312.25 L483.40,311.66 L483.05,311.16 L482.70,310.79 L482.35,310.58 L482.00,310.45 L481.65,310.33 L481.30,310.24 L480.95,310.17 L480.60,310.12 L480.25,310.10 L479.90,310.24 L479.55,310.65 L479.20,311.16 L478.85,311.61 L478.50,311.84 L478.15,311.98 L477.80,312.09 L477.45,312.17 L477.10,312.20 L476.75,312.13 L476.40,311.93 L476.05,311.64 L475.70,311.30 L475.35,310.76 L475.00,309.93 L474.65,308.96 L474.30,308.00 L473.95,307.04 L473.60,306.01 L473.25,304.89 L472.90,303.20Z" fill="url(#g12)"/>
<path d="M500.00,301.00 L500.35,301.05 L500.70,301.10 L501.05,301.13 L501.40,301.16 L501.75,301.17 L502.10,301.19 L502.45,301.19 L502.80,301.20 L503.15,301.20 L503.50,301.20 L503.85,301.18 L504.20,301.14 L504.55,301.09 L504.90,301.02 L505.25,300.95 L505.60,300.87 L505.95,300.79 L506.30,300.72 L506.65,300.65 L507.00,300.60 L507.35,300.55 L507.70,300.51 L508.05,300.46 L508.40,300.41 L508.75,300.36 L509.10,300.32 L509.45,300.28 L509.80,300.25 L510.15,300.22 L510.50,300.21 L510.85,300.20 L511.20,300.20 L511.55,300.21 L511.90,300.23 L512.25,300.26 L512.60,300.29 L512.95,300.32 L513.30,300.36 L513.65,300.40 L514.00,300.45 L514.35,300.49 L514.70,300.54 L515.05,300.59 L515.40,300.64 L515.75,300.68 L516.10,300.73 L516.45,300.77 L516.80,300.83 L517.15,300.88 L517.50,300.94 L517.85,301.00 L518.20,301.06 L518.55,301.12 L518.90,301.18 L519.25,301.25 L519.60,301.31 L519.95,301.37 L520.30,301.42 L520.65,301.48 L521.00,301.53 L521.35,301.59 L521.70,301.66 L522.05,301.71 L522.40,301.76 L522.75,301.79 L523.10,301.80 L523.45,301.77 L523.80,301.72 L524.15,301.66 L524.50,301.61 L524.85,301.60 L525.20,301.76 L525.55,302.10 L525.90,302.57 L526.25,303.12 L526.30,303.20 L526.30,303.20 L526.25,303.28 L525.90,303.83 L525.55,304.31 L525.20,304.65 L524.85,304.80 L524.50,304.78 L524.15,304.71 L523.80,304.63 L523.45,304.55 L523.10,304.50 L522.75,304.50 L522.40,304.52 L522.05,304.55 L521.70,304.59 L521.35,304.63 L521.00,304.68 L520.65,304.72 L520.30,304.77 L519.95,304.83 L519.60,304.90 L519.25,304.98 L518.90,305.06 L518.55,305.14 L518.20,305.23 L517.85,305.31 L517.50,305.39 L517.15,305.47 L516.80,305.55 L516.45,305.61 L516.10,305.67 L515.75,305.72 L515.40,305.77 L515.05,305.82 L514.70,305.87 L514.35,305.91 L514.00,305.96 L513.65,306.00 L513.30,306.05 L512.95,306.08 L512.60,306.12 L512.25,306.15 L511.90,306.17 L511.55,306.19 L511.20,306.20 L510.85,306.20 L510.50,306.19 L510.15,306.18 L509.80,306.16 L509.45,306.12 L509.10,306.09 L508.75,306.05 L508.40,306.00 L508.05,305.95 L507.70,305.90 L507.35,305.85 L507.00,305.80 L506.65,305.73 L506.30,305.64 L505.95,305.54 L505.60,305.42 L505.25,305.30 L504.90,305.19 L504.55,305.08 L504.20,304.99 L503.85,304.93 L503.50,304.90 L503.15,304.90 L502.80,304.90 L502.45,304.91 L502.10,304.92 L501.75,304.94 L501.40,304.97 L501.05,305.01 L500.70,305.06 L500.35,305.12 L500.00,305.20Z" fill="url(#g13)"/>
<path d="M463.60,349.05 L463.95,348.05 L464.30,347.61 L464.65,347.50 L465.00,347.41 L465.35,347.34 L465.70,347.29 L466.05,347.25 L466.40,347.22 L466.75,347.19 L467.10,347.16 L467.45,347.13 L467.80,347.10 L468.15,347.08 L468.50,347.06 L468.85,347.05 L469.20,347.02 L469.55,347.00 L469.90,346.96 L470.25,346.90 L470.60,346.79 L470.95,346.64 L471.30,346.46 L471.65,346.25 L472.00,346.04 L472.35,345.84 L472.70,345.65 L473.05,345.48 L473.40,345.33 L473.75,345.19 L474.10,345.05 L474.45,344.90 L474.80,344.76 L475.15,344.61 L475.50,344.45 L475.85,344.28 L476.20,344.10 L476.55,343.92 L476.90,343.73 L477.25,343.54 L477.60,343.33 L477.95,343.11 L478.30,342.87 L478.65,342.61 L479.00,342.32 L479.35,341.98 L479.70,341.62 L480.05,341.25 L480.40,340.86 L480.75,340.46 L481.10,340.03 L481.45,339.59 L481.80,339.14 L482.15,338.72 L482.50,338.35 L482.85,338.03 L483.20,337.73 L483.55,337.41 L483.90,337.03 L484.25,336.61 L484.60,336.13 L484.95,335.55 L485.30,334.79 L485.65,333.42 L486.00,331.85 L486.35,330.81 L486.70,330.48 L487.05,330.22 L487.40,330.02 L487.75,329.89 L488.10,329.85 L488.45,329.87 L488.80,329.91 L489.15,329.98 L489.50,330.08 L489.85,330.19 L490.20,330.40 L490.55,330.95 L490.90,331.76 L491.25,332.73 L491.60,333.74 L491.95,334.68 L492.30,335.67 L492.65,336.74 L493.00,337.75 L493.35,338.55 L493.70,339.20 L494.05,339.78 L494.40,340.28 L494.75,340.70 L495.10,341.03 L495.45,341.30 L495.80,341.54 L496.15,341.77 L496.50,342.00 L496.85,342.26 L497.20,342.54 L497.55,342.81 L497.90,343.09 L498.25,343.37 L498.60,343.65 L498.95,343.93 L499.30,344.20 L499.65,344.48 L500.00,344.75 L500.00,353.05 L499.65,353.36 L499.30,353.67 L498.95,353.96 L498.60,354.25 L498.25,354.53 L497.90,354.80 L497.55,355.04 L497.20,355.27 L496.85,355.49 L496.50,355.72 L496.15,355.97 L495.80,356.26 L495.45,356.59 L495.10,356.96 L494.75,357.37 L494.40,357.83 L494.05,358.34 L493.70,358.93 L493.35,359.68 L493.00,360.56 L492.65,361.49 L492.30,362.42 L491.95,363.44 L491.60,364.51 L491.25,365.44 L490.90,366.12 L490.55,366.69 L490.20,367.24 L489.85,367.70 L489.50,368.05 L489.15,368.23 L488.80,368.21 L488.45,367.97 L488.10,367.56 L487.75,367.04 L487.40,366.45 L487.05,365.86 L486.70,365.08 L486.35,364.13 L486.00,363.19 L485.65,362.46 L485.30,361.91 L484.95,361.43 L484.60,361.00 L484.25,360.59 L483.90,360.22 L483.55,359.88 L483.20,359.55 L482.85,359.22 L482.50,358.86 L482.15,358.46 L481.80,358.02 L481.45,357.56 L481.10,357.10 L480.75,356.65 L480.40,356.23 L480.05,355.79 L479.70,355.35 L479.35,354.93 L479.00,354.57 L478.65,354.28 L478.30,354.07 L477.95,353.90 L477.60,353.74 L477.25,353.60 L476.90,353.47 L476.55,353.35 L476.20,353.23 L475.85,353.11 L475.50,352.97 L475.15,352.84 L474.80,352.71 L474.45,352.59 L474.10,352.46 L473.75,352.34 L473.40,352.22 L473.05,352.10 L472.70,351.98 L472.35,351.85 L472.00,351.71 L471.65,351.58 L471.30,351.45 L470.95,351.33 L470.60,351.24 L470.25,351.18 L469.90,351.14 L469.55,351.13 L469.20,351.11 L468.85,351.10 L468.50,351.10 L468.15,351.09 L467.80,351.08 L467.45,351.06 L467.10,351.04 L466.75,351.02 L466.40,350.99 L466.05,350.95 L465.70,350.90 L465.35,350.83 L465.00,350.74 L464.65,350.63 L464.30,350.49 L463.95,350.05 L463.60,349.05Z" fill="url(#g14)"/>
<path d="M499.20,344.85 L499.55,345.04 L499.90,345.22 L500.25,345.41 L500.60,345.58 L500.95,345.74 L501.30,345.88 L501.65,346.00 L502.00,346.09 L502.35,346.14 L502.70,346.18 L503.05,346.20 L503.40,346.23 L503.75,346.25 L504.10,346.27 L504.45,346.28 L504.80,346.29 L505.15,346.31 L505.50,346.32 L505.85,346.33 L506.20,346.34 L506.55,346.35 L506.90,346.36 L507.25,346.37 L507.60,346.39 L507.95,346.40 L508.30,346.42 L508.65,346.44 L509.00,346.46 L509.35,346.49 L509.70,346.53 L510.05,346.57 L510.40,346.62 L510.75,346.66 L511.10,346.71 L511.45,346.76 L511.80,346.82 L512.15,346.87 L512.50,346.92 L512.85,346.96 L513.20,347.01 L513.55,347.05 L513.90,347.08 L514.25,347.11 L514.60,347.13 L514.95,347.15 L515.30,347.15 L515.65,347.15 L516.00,347.15 L516.35,347.15 L516.70,347.15 L517.05,347.15 L517.40,347.15 L517.75,347.15 L518.10,347.15 L518.45,347.15 L518.80,347.15 L519.15,347.15 L519.50,347.15 L519.85,347.15 L520.20,347.15 L520.55,347.15 L520.90,347.15 L521.25,347.15 L521.60,347.15 L521.95,347.15 L522.30,347.15 L522.65,347.15 L523.00,347.15 L523.35,347.15 L523.70,347.15 L524.05,347.15 L524.40,347.15 L524.75,347.15 L525.10,347.15 L525.45,347.16 L525.80,347.18 L526.15,347.20 L526.50,347.23 L526.85,347.26 L527.20,347.30 L527.55,347.34 L527.90,347.38 L528.25,347.42 L528.60,347.47 L528.95,347.51 L529.30,347.56 L529.65,347.60 L530.00,347.63 L530.35,347.67 L530.70,347.70 L531.05,347.72 L531.40,347.74 L531.75,347.75 L532.10,347.75 L532.45,347.72 L532.80,347.68 L533.15,347.62 L533.50,347.56 L533.85,347.50 L534.20,347.46 L534.55,347.45 L534.90,347.61 L535.25,347.97 L535.60,348.44 L535.95,348.97 L536.00,349.05 L536.00,349.05 L535.95,349.13 L535.60,349.66 L535.25,350.13 L534.90,350.49 L534.55,350.65 L534.20,350.64 L533.85,350.60 L533.50,350.54 L533.15,350.48 L532.80,350.42 L532.45,350.38 L532.10,350.35 L531.75,350.35 L531.40,350.36 L531.05,350.38 L530.70,350.40 L530.35,350.43 L530.00,350.47 L529.65,350.50 L529.30,350.54 L528.95,350.59 L528.60,350.63 L528.25,350.68 L527.90,350.72 L527.55,350.76 L527.20,350.80 L526.85,350.84 L526.50,350.87 L526.15,350.90 L525.80,350.92 L525.45,350.94 L525.10,350.95 L524.75,350.95 L524.40,350.95 L524.05,350.95 L523.70,350.95 L523.35,350.95 L523.00,350.95 L522.65,350.95 L522.30,350.95 L521.95,350.95 L521.60,350.95 L521.25,350.95 L520.90,350.95 L520.55,350.95 L520.20,350.95 L519.85,350.95 L519.50,350.95 L519.15,350.95 L518.80,350.95 L518.45,350.95 L518.10,350.95 L517.75,350.95 L517.40,350.95 L517.05,350.95 L516.70,350.95 L516.35,350.95 L516.00,350.95 L515.65,350.95 L515.30,350.95 L514.95,350.95 L514.60,350.97 L514.25,350.98 L513.90,351.01 L513.55,351.04 L513.20,351.08 L512.85,351.12 L512.50,351.16 L512.15,351.21 L511.80,351.25 L511.45,351.30 L511.10,351.35 L510.75,351.40 L510.40,351.45 L510.05,351.50 L509.70,351.55 L509.35,351.59 L509.00,351.63 L508.65,351.66 L508.30,351.70 L507.95,351.73 L507.60,351.75 L507.25,351.78 L506.90,351.81 L506.55,351.83 L506.20,351.86 L505.85,351.88 L505.50,351.91 L505.15,351.93 L504.80,351.96 L504.45,351.99 L504.10,352.03 L503.75,352.07 L503.40,352.11 L503.05,352.15 L502.70,352.20 L502.35,352.26 L502.00,352.33 L501.65,352.43 L501.30,352.56 L500.95,352.70 L500.60,352.85 L500.25,353.02 L499.90,353.19 L499.55,353.37 L499.20,353.55Z" fill="url(#g15)"/>
<path d="M455.20,394.90 L455.55,393.89 L455.90,393.55 L456.25,393.46 L456.60,393.40 L456.95,393.34 L457.30,393.31 L457.65,393.28 L458.00,393.25 L458.35,393.23 L458.70,393.20 L459.05,393.16 L459.40,393.12 L459.75,393.05 L460.10,392.97 L460.45,392.87 L460.80,392.76 L461.15,392.64 L461.50,392.53 L461.85,392.43 L462.20,392.34 L462.55,392.26 L462.90,392.22 L463.25,392.20 L463.60,392.22 L463.95,392.26 L464.30,392.33 L464.65,392.42 L465.00,392.52 L465.35,392.63 L465.70,392.74 L466.05,392.85 L466.40,392.96 L466.75,393.05 L467.10,393.12 L467.45,393.19 L467.80,393.27 L468.15,393.35 L468.50,393.43 L468.85,393.49 L469.20,393.56 L469.55,393.60 L469.90,393.64 L470.25,393.65 L470.60,393.64 L470.95,393.60 L471.30,393.54 L471.65,393.47 L472.00,393.39 L472.35,393.30 L472.70,393.22 L473.05,393.14 L473.40,393.04 L473.75,392.92 L474.10,392.80 L474.45,392.68 L474.80,392.56 L475.15,392.46 L475.50,392.37 L475.85,392.32 L476.20,392.30 L476.55,392.31 L476.90,392.34 L477.25,392.38 L477.60,392.43 L477.95,392.48 L478.30,392.53 L478.65,392.57 L479.00,392.59 L479.35,392.60 L479.70,392.55 L480.05,392.42 L480.40,392.24 L480.75,392.00 L481.10,391.74 L481.45,391.45 L481.80,391.15 L482.15,390.75 L482.50,390.22 L482.85,389.63 L483.20,389.06 L483.55,388.59 L483.90,388.24 L484.25,387.93 L484.60,387.63 L484.95,387.29 L485.30,386.87 L485.65,386.39 L486.00,385.84 L486.35,385.18 L486.70,384.36 L487.05,383.08 L487.40,380.94 L487.75,378.76 L488.10,377.40 L488.45,376.78 L488.80,376.30 L489.15,376.03 L489.50,376.02 L489.85,376.17 L490.20,376.43 L490.55,376.80 L490.90,377.25 L491.25,378.12 L491.60,379.99 L491.95,382.28 L492.30,384.37 L492.65,386.49 L493.00,388.31 L493.35,389.32 L493.70,390.13 L494.05,390.78 L494.40,391.27 L494.75,391.60 L495.10,391.83 L495.45,392.04 L495.80,392.22 L496.15,392.38 L496.50,392.52 L496.85,392.63 L497.20,392.71 L497.55,392.78 L497.90,392.83 L498.25,392.87 L498.60,392.91 L498.95,392.95 L499.30,392.98 L499.65,393.02 L500.00,393.05 L500.35,393.07 L500.70,393.10 L501.05,393.12 L501.40,393.14 L501.75,393.16 L502.10,393.17 L502.45,393.19 L502.80,393.19 L503.15,393.20 L503.50,393.20 L503.85,393.20 L504.20,393.20 L504.55,393.20 L504.90,393.20 L505.00,393.20 L505.00,396.60 L504.90,396.60 L504.55,396.60 L504.20,396.60 L503.85,396.60 L503.50,396.60 L503.15,396.60 L502.80,396.61 L502.45,396.62 L502.10,396.64 L501.75,396.66 L501.40,396.69 L501.05,396.72 L500.70,396.75 L500.35,396.79 L500.00,396.84 L499.65,396.88 L499.30,396.94 L498.95,396.99 L498.60,397.05 L498.25,397.11 L497.90,397.18 L497.55,397.24 L497.20,397.31 L496.85,397.39 L496.50,397.47 L496.15,397.58 L495.80,397.71 L495.45,397.87 L495.10,398.07 L494.75,398.31 L494.40,398.60 L494.05,398.94 L493.70,399.44 L493.35,400.49 L493.00,401.90 L492.65,403.43 L492.30,405.49 L491.95,407.90 L491.60,409.95 L491.25,411.09 L490.90,411.95 L490.55,412.72 L490.20,413.34 L489.85,413.80 L489.50,414.06 L489.15,414.06 L488.80,413.67 L488.45,412.95 L488.10,411.99 L487.75,410.87 L487.40,408.88 L487.05,406.08 L486.70,404.71 L486.35,404.21 L486.00,403.86 L485.65,403.58 L485.30,403.30 L484.95,402.96 L484.60,402.64 L484.25,402.33 L483.90,402.00 L483.55,401.65 L483.20,401.25 L482.85,400.79 L482.50,400.31 L482.15,399.87 L481.80,399.50 L481.45,399.19 L481.10,398.89 L480.75,398.60 L480.40,398.35 L480.05,398.12 L479.70,397.94 L479.35,397.81 L479.00,397.73 L478.65,397.66 L478.30,397.60 L477.95,397.55 L477.60,397.51 L477.25,397.46 L476.90,397.42 L476.55,397.36 L476.20,397.30 L475.85,397.22 L475.50,397.13 L475.15,397.03 L474.80,396.92 L474.45,396.81 L474.10,396.70 L473.75,396.60 L473.40,396.51 L473.05,396.44 L472.70,396.39 L472.35,396.34 L472.00,396.29 L471.65,396.24 L471.30,396.20 L470.95,396.17 L470.60,396.16 L470.25,396.15 L469.90,396.16 L469.55,396.19 L469.20,396.24 L468.85,396.30 L468.50,396.37 L468.15,396.44 L467.80,396.52 L467.45,396.60 L467.10,396.68 L466.75,396.76 L466.40,396.86 L466.05,396.99 L465.70,397.12 L465.35,397.26 L465.00,397.40 L464.65,397.52 L464.30,397.63 L463.95,397.72 L463.60,397.78 L463.25,397.80 L462.90,397.78 L462.55,397.74 L462.20,397.68 L461.85,397.60 L461.50,397.50 L461.15,397.40 L460.80,397.30 L460.45,397.20 L460.10,397.12 L459.75,397.04 L459.40,396.99 L459.05,396.95 L458.70,396.92 L458.35,396.90 L458.00,396.88 L457.65,396.86 L457.30,396.84 L456.95,396.81 L456.60,396.77 L456.25,396.71 L455.90,396.64 L455.55,396.23 L455.20,394.90Z" fill="url(#g16)"/>
<path d="M505.40,394.90 L505.75,394.07 L506.10,393.44 L506.45,393.39 L506.80,393.38 L507.15,393.37 L507.50,393.36 L507.85,393.36 L508.20,393.35 L508.55,393.34 L508.90,393.34 L509.25,393.33 L509.60,393.33 L509.95,393.32 L510.30,393.32 L510.65,393.32 L511.00,393.31 L511.35,393.31 L511.70,393.31 L512.05,393.31 L512.40,393.30 L512.75,393.30 L513.10,393.30 L513.45,393.30 L513.80,393.30 L514.15,393.30 L514.50,393.30 L514.85,393.30 L515.20,393.30 L515.55,393.30 L515.90,393.30 L516.25,393.30 L516.60,393.30 L516.95,393.30 L517.30,393.30 L517.65,393.30 L518.00,393.30 L518.35,393.30 L518.70,393.30 L519.05,393.30 L519.40,393.30 L519.75,393.30 L520.10,393.30 L520.45,393.30 L520.80,393.30 L521.15,393.30 L521.50,393.30 L521.85,393.30 L522.20,393.30 L522.55,393.30 L522.90,393.30 L523.25,393.30 L523.60,393.30 L523.95,393.30 L524.30,393.30 L524.65,393.30 L525.00,393.30 L525.35,393.30 L525.70,393.30 L526.05,393.30 L526.40,393.30 L526.75,393.30 L527.10,393.30 L527.45,393.30 L527.80,393.30 L528.15,393.30 L528.50,393.30 L528.85,393.30 L529.20,393.30 L529.55,393.30 L529.90,393.30 L530.25,393.30 L530.60,393.30 L530.95,393.30 L531.30,393.30 L531.65,393.30 L532.00,393.30 L532.35,393.30 L532.70,393.30 L533.05,393.30 L533.40,393.30 L533.75,393.30 L534.10,393.30 L534.45,393.30 L534.80,393.30 L535.15,393.30 L535.50,393.30 L535.85,393.30 L536.20,393.30 L536.55,393.30 L536.90,393.30 L537.25,393.31 L537.60,393.31 L537.95,393.31 L538.30,393.32 L538.65,393.32 L539.00,393.33 L539.35,393.33 L539.70,393.34 L540.05,393.35 L540.40,393.36 L540.75,393.37 L541.10,393.38 L541.45,393.40 L541.80,393.73 L542.15,394.56 L542.30,394.90 L542.30,394.90 L542.15,395.27 L541.80,396.14 L541.45,396.50 L541.10,396.53 L540.75,396.55 L540.40,396.58 L540.05,396.60 L539.70,396.61 L539.35,396.63 L539.00,396.64 L538.65,396.65 L538.30,396.66 L537.95,396.67 L537.60,396.68 L537.25,396.69 L536.90,396.69 L536.55,396.69 L536.20,396.70 L535.85,396.70 L535.50,396.70 L535.15,396.70 L534.80,396.70 L534.45,396.70 L534.10,396.70 L533.75,396.70 L533.40,396.70 L533.05,396.70 L532.70,396.70 L532.35,396.70 L532.00,396.70 L531.65,396.70 L531.30,396.70 L530.95,396.70 L530.60,396.70 L530.25,396.70 L529.90,396.70 L529.55,396.70 L529.20,396.70 L528.85,396.70 L528.50,396.70 L528.15,396.70 L527.80,396.70 L527.45,396.70 L527.10,396.70 L526.75,396.70 L526.40,396.70 L526.05,396.70 L525.70,396.70 L525.35,396.70 L525.00,396.70 L524.65,396.70 L524.30,396.70 L523.95,396.70 L523.60,396.70 L523.25,396.70 L522.90,396.70 L522.55,396.70 L522.20,396.70 L521.85,396.70 L521.50,396.70 L521.15,396.70 L520.80,396.70 L520.45,396.70 L520.10,396.70 L519.75,396.70 L519.40,396.70 L519.05,396.70 L518.70,396.70 L518.35,396.70 L518.00,396.70 L517.65,396.70 L517.30,396.70 L516.95,396.70 L516.60,396.70 L516.25,396.70 L515.90,396.70 L515.55,396.70 L515.20,396.70 L514.85,396.70 L514.50,396.70 L514.15,396.70 L513.80,396.70 L513.45,396.70 L513.10,396.70 L512.75,396.70 L512.40,396.70 L512.05,396.69 L511.70,396.69 L511.35,396.69 L511.00,396.69 L510.65,396.68 L510.30,396.68 L509.95,396.68 L509.60,396.67 L509.25,396.67 L508.90,396.66 L508.55,396.66 L508.20,396.65 L507.85,396.64 L507.50,396.64 L507.15,396.63 L506.80,396.62 L506.45,396.61 L506.10,396.55 L505.75,395.84 L505.40,394.90Z" fill="url(#g17)"/>
<path d="M475.40,440.75 L475.75,440.07 L476.10,439.55 L476.45,439.23 L476.80,438.99 L477.15,438.71 L477.50,438.27 L477.85,437.63 L478.20,436.83 L478.55,435.93 L478.90,434.96 L479.25,433.71 L479.60,432.33 L479.95,431.10 L480.30,430.02 L480.65,429.28 L481.00,429.18 L481.35,429.14 L481.70,429.11 L482.05,429.06 L482.40,428.99 L482.75,428.89 L483.10,428.71 L483.45,427.65 L483.80,424.71 L484.15,423.29 L484.50,422.42 L484.85,421.80 L485.20,421.51 L485.55,421.30 L485.90,421.17 L486.25,421.17 L486.60,421.31 L486.95,421.59 L487.30,421.95 L487.65,422.62 L488.00,423.85 L488.35,426.86 L488.70,430.85 L489.05,436.84 L489.20,440.75 L489.20,440.75 L489.05,444.51 L488.70,451.54 L488.35,455.42 L488.00,457.36 L487.65,458.46 L487.30,459.31 L486.95,459.92 L486.60,460.15 L486.25,460.13 L485.90,460.08 L485.55,459.99 L485.20,459.85 L484.85,459.50 L484.50,458.86 L484.15,457.76 L483.80,453.75 L483.45,453.18 L483.10,452.90 L482.75,452.75 L482.40,452.67 L482.05,452.61 L481.70,452.55 L481.35,452.46 L481.00,452.27 L480.65,451.66 L480.30,450.73 L479.95,449.52 L479.60,447.80 L479.25,446.30 L478.90,445.34 L478.55,444.51 L478.20,443.82 L477.85,443.31 L477.50,442.96 L477.15,442.72 L476.80,442.51 L476.45,442.27 L476.10,441.95 L475.75,441.43 L475.40,440.75Z" fill="url(#g18)"/>
<path d="M488.80,434.75 L489.15,434.30 L489.50,433.97 L489.85,433.67 L490.20,433.44 L490.55,433.29 L490.90,433.17 L491.25,433.08 L491.60,433.05 L491.95,433.15 L492.30,433.39 L492.65,433.71 L493.00,434.08 L493.35,434.62 L493.70,435.25 L494.05,435.83 L494.40,436.38 L494.75,436.92 L495.10,437.44 L495.45,437.92 L495.80,438.43 L496.15,438.74 L496.50,438.70 L496.85,438.53 L497.20,438.30 L497.55,438.04 L497.90,437.80 L498.25,437.63 L498.60,437.49 L498.95,437.34 L499.30,437.20 L499.65,437.09 L500.00,437.00 L500.35,436.95 L500.70,436.97 L501.05,437.08 L501.40,437.27 L501.75,437.51 L502.10,437.77 L502.45,438.04 L502.80,438.29 L503.15,438.52 L503.50,438.79 L503.85,439.07 L504.20,439.30 L504.55,439.44 L504.90,439.43 L505.25,439.35 L505.60,439.22 L505.95,439.09 L506.30,439.00 L506.65,438.90 L507.00,438.81 L507.35,438.72 L507.70,438.63 L508.05,438.55 L508.40,438.47 L508.75,438.40 L509.10,438.33 L509.45,438.27 L509.80,438.20 L510.15,438.14 L510.50,438.08 L510.85,438.02 L511.20,437.97 L511.55,437.92 L511.90,437.89 L512.25,437.86 L512.60,437.85 L512.95,437.86 L513.30,437.89 L513.65,437.94 L514.00,438.00 L514.35,438.08 L514.70,438.17 L515.05,438.25 L515.40,438.34 L515.75,438.42 L516.10,438.50 L516.45,438.56 L516.80,438.61 L517.15,438.65 L517.50,438.69 L517.85,438.73 L518.20,438.76 L518.55,438.80 L518.90,438.84 L519.25,438.89 L519.60,438.94 L519.95,439.00 L520.30,439.07 L520.65,439.15 L521.00,439.25 L521.35,439.40 L521.70,439.65 L522.05,440.37 L522.20,440.75 L522.20,440.75 L522.05,441.14 L521.70,441.87 L521.35,442.04 L521.00,442.13 L520.65,442.18 L520.30,442.23 L519.95,442.29 L519.60,442.34 L519.25,442.39 L518.90,442.44 L518.55,442.48 L518.20,442.52 L517.85,442.56 L517.50,442.60 L517.15,442.64 L516.80,442.69 L516.45,442.74 L516.10,442.80 L515.75,442.88 L515.40,442.96 L515.05,443.05 L514.70,443.13 L514.35,443.22 L514.00,443.30 L513.65,443.36 L513.30,443.41 L512.95,443.44 L512.60,443.45 L512.25,443.45 L511.90,443.44 L511.55,443.43 L511.20,443.41 L510.85,443.39 L510.50,443.37 L510.15,443.35 L509.80,443.32 L509.45,443.29 L509.10,443.26 L508.75,443.21 L508.40,443.12 L508.05,443.00 L507.70,442.85 L507.35,442.70 L507.00,442.54 L506.65,442.41 L506.30,442.30 L505.95,442.22 L505.60,442.15 L505.25,442.09 L504.90,442.06 L504.55,442.07 L504.20,442.22 L503.85,442.48 L503.50,442.79 L503.15,443.09 L502.80,443.31 L502.45,443.51 L502.10,443.73 L501.75,443.94 L501.40,444.12 L501.05,444.26 L500.70,444.34 L500.35,444.34 L500.00,444.29 L499.65,444.20 L499.30,444.08 L498.95,443.94 L498.60,443.80 L498.25,443.67 L497.90,443.53 L497.55,443.37 L497.20,443.19 L496.85,443.02 L496.50,442.86 L496.15,442.73 L495.80,442.66 L495.45,442.68 L495.10,442.96 L494.75,443.40 L494.40,443.90 L494.05,444.62 L493.70,445.51 L493.35,446.38 L493.00,447.05 L492.65,447.57 L492.30,448.02 L491.95,448.25 L491.60,448.23 L491.25,448.18 L490.90,448.10 L490.55,448.00 L490.20,447.81 L489.85,447.56 L489.50,447.28 L489.15,447.01 L488.80,446.75Z" fill="url(#g19)"/>
<circle cx="156.40" cy="28.00" r="1.75" fill="#e8bf38"/>
<circle cx="167.00" cy="29.30" r="1.75" fill="#e8bf38"/>
<circle cx="168.20" cy="30.30" r="1.75" fill="#e8bf38"/>
<circle cx="169.20" cy="25.90" r="1.75" fill="#e8bf38"/>
<circle cx="169.40" cy="30.60" r="1.75" fill="#e8bf38"/>
<circle cx="170.70" cy="28.30" r="1.75" fill="#e8bf38"/>
<circle cx="172.30" cy="26.50" r="1.75" fill="#e8bf38"/>
<circle cx="172.70" cy="29.60" r="1.75" fill="#e8bf38"/>
<circle cx="173.90" cy="24.70" r="1.75" fill="#e8bf38"/>
<circle cx="176.70" cy="24.90" r="1.75" fill="#e8bf38"/>
<circle cx="174.30" cy="27.10" r="1.75" fill="#e8bf38"/>
<circle cx="175.30" cy="31.50" r="1.75" fill="#e8bf38"/>
<circle cx="178.30" cy="30.70" r="1.75" fill="#e8bf38"/>
<circle cx="177.50" cy="25.90" r="1.75" fill="#e8bf38"/>
<circle cx="176.50" cy="30.20" r="1.75" fill="#e8bf38"/>
<circle cx="242.30" cy="23.20" r="1.75" fill="#e8bf38"/>
<circle cx="241.10" cy="27.50" r="1.75" fill="#e8bf38"/>
<circle cx="242.70" cy="27.10" r="1.75" fill="#e8bf38"/>
<circle cx="241.10" cy="31.50" r="1.75" fill="#e8bf38"/>
<circle cx="242.30" cy="33.50" r="1.75" fill="#e8bf38"/>
<circle cx="244.70" cy="25.90" r="1.75" fill="#e8bf38"/>
<circle cx="246.70" cy="24.30" r="1.75" fill="#e8bf38"/>
<circle cx="245.90" cy="27.90" r="1.75" fill="#e8bf38"/>
<circle cx="246.70" cy="31.50" r="1.75" fill="#e8bf38"/>
<circle cx="244.70" cy="29.90" r="1.75" fill="#e8bf38"/>
<circle cx="249.90" cy="27.10" r="1.75" fill="#e8bf38"/>
<circle cx="248.30" cy="27.90" r="1.75" fill="#e8bf38"/>
<circle cx="255.00" cy="25.90" r="1.75" fill="#e8bf38"/>
<circle cx="254.20" cy="28.70" r="1.75" fill="#e8bf38"/>
<circle cx="240.30" cy="21.50" r="1.75" fill="#e8bf38"/>
<circle cx="240.30" cy="35.00" r="1.75" fill="#e8bf38"/>
<circle cx="566.30" cy="21.10" r="1.45" fill="#541774"/>
<circle cx="566.30" cy="35.90" r="1.45" fill="#541774"/>
<circle cx="601.00" cy="37.50" r="1.45" fill="#541774"/>
<circle cx="598.60" cy="16.40" r="1.45" fill="#541774"/>
<circle cx="598.40" cy="20.00" r="1.45" fill="#541774"/>
<circle cx="598.60" cy="25.00" r="1.45" fill="#541774"/>
<circle cx="598.30" cy="29.00" r="1.45" fill="#541774"/>
<circle cx="598.60" cy="34.00" r="1.45" fill="#541774"/>
<circle cx="597.50" cy="38.80" r="1.45" fill="#541774"/>
<circle cx="530.90" cy="73.95" r="1.75" fill="#e89a30"/>
<circle cx="533.80" cy="73.95" r="1.75" fill="#e8b43a"/>
<circle cx="536.70" cy="73.95" r="1.75" fill="#e07a30"/>
<circle cx="541.40" cy="73.95" r="1.75" fill="#e06a2a"/>
<circle cx="500.60" cy="166.45" r="2.3" fill="#c24a46"/>
<circle cx="487.90" cy="164.25" r="1.1" fill="#d8782e"/>
<circle cx="481.20" cy="161.15" r="0.9" fill="#c8503e"/>
<circle cx="499.30" cy="165.05" r="1.2" fill="#a83a50"/>
<circle cx="473.00" cy="211.40" r="1.5" fill="#7a2470"/>
<circle cx="477.80" cy="207.60" r="1.5" fill="#7a2470"/>
<circle cx="482.50" cy="216.80" r="1.5" fill="#7a2470"/>
<circle cx="483.60" cy="211.50" r="1.5" fill="#862868"/>
<circle cx="477.60" cy="210.60" r="1.5" fill="#e4bc36"/>
<circle cx="480.70" cy="206.40" r="1.5" fill="#e2802c"/>
<circle cx="479.80" cy="215.20" r="1.5" fill="#e2802c"/>
<circle cx="481.30" cy="212.60" r="1.5" fill="#dc7030"/>
<circle cx="469.90" cy="209.80" r="1.5" fill="#d46a38"/>
<circle cx="485.80" cy="252.80" r="1.5" fill="#e4a232"/>
<circle cx="486.60" cy="245.50" r="1.5" fill="#dc7a34"/>
<circle cx="485.40" cy="239.80" r="1.5" fill="#d86a36"/>
<circle cx="478.50" cy="262.00" r="1.5" fill="#d8703a"/>
<circle cx="484.50" cy="270.50" r="1.5" fill="#dc8a34"/>
<circle cx="489.00" cy="260.50" r="1.5" fill="#d46a3a"/>
<circle cx="475.00" cy="257.00" r="1.5" fill="#dc6a36"/>
<circle cx="478.00" cy="347.50" r="1.5" fill="#dc6a36"/>
<circle cx="486.50" cy="340.80" r="1.5" fill="#e4b034"/>
<circle cx="488.50" cy="332.20" r="1.5" fill="#dc6a36"/>
<circle cx="486.00" cy="358.50" r="1.5" fill="#dc6a36"/>
<circle cx="481.50" cy="346.00" r="1.5" fill="#d86038"/>
<circle cx="507.60" cy="395.00" r="1.9" fill="#d4404a"/>
<circle cx="510.30" cy="395.00" r="1.9" fill="#d4424a"/>
<circle cx="513.00" cy="395.00" r="1.9" fill="#d64648"/>
<circle cx="515.60" cy="395.00" r="1.9" fill="#dc5440"/>
<circle cx="518.30" cy="395.00" r="1.9" fill="#e4702e"/>
<circle cx="521.00" cy="395.00" r="1.9" fill="#e87a2c"/>
<circle cx="523.70" cy="395.00" r="1.9" fill="#e4742e"/>
<circle cx="526.40" cy="395.00" r="1.9" fill="#e88a2c"/>
<circle cx="528.90" cy="395.00" r="1.9" fill="#e8b834"/>
<circle cx="531.60" cy="395.00" r="1.9" fill="#e0703a"/>
<circle cx="534.30" cy="395.00" r="1.9" fill="#e8902c"/>
<circle cx="537.00" cy="395.00" r="1.9" fill="#dc6a3a"/>
<circle cx="540.30" cy="395.00" r="1.9" fill="#e4802e"/>
<text x="129.3" y="32.10" class="ax" text-anchor="end">Sex = Male</text>
<text x="129.3" y="72.65" class="ax" text-anchor="end">Emotional symptoms SDQ scale</text>
<text x="129.3" y="82.10" class="ax" text-anchor="end">(child-reported)</text>
<text x="129.3" y="123.80" class="ax" text-anchor="end">Body satisfaction score</text>
<text x="129.3" y="164.35" class="ax" text-anchor="end">Peer relationship problems</text>
<text x="129.3" y="173.80" class="ax" text-anchor="end">SDQ scale (parent-reported)</text>
<text x="129.3" y="210.20" class="ax" text-anchor="end">Hyperactivity/Inattention SDQ</text>
<text x="129.3" y="219.65" class="ax" text-anchor="end">scale (parent-reported)</text>
<text x="129.3" y="261.35" class="ax" text-anchor="end">Paternal Body Mass Index</text>
<text x="129.3" y="301.90" class="ax" text-anchor="end">Stress in Children (SiC)</text>
<text x="129.3" y="311.35" class="ax" text-anchor="end">score</text>
<text x="129.3" y="353.05" class="ax" text-anchor="end">Maternal Body Mass Index</text>
<text x="129.3" y="393.60" class="ax" text-anchor="end">Child&#39;s Body Mass Index at</text>
<text x="129.3" y="403.05" class="ax" text-anchor="end">7-year follow-up</text>
<text x="129.3" y="439.45" class="ax" text-anchor="end">Conduct problems SDQ</text>
<text x="129.3" y="448.90" class="ax" text-anchor="end">scale(child-reported)</text>
<text x="148.70" y="480.7" class="ax" text-anchor="middle">-1.5</text>
<text x="262.40" y="480.7" class="ax" text-anchor="middle">-1.0</text>
<text x="376.10" y="480.7" class="ax" text-anchor="middle">-0.5</text>
<text x="489.80" y="480.7" class="ax" text-anchor="middle">0.0</text>
<text x="603.50" y="480.7" class="ax" text-anchor="middle">0.5</text>
<text x="378.8" y="502.7" font-size="11" fill="#000" text-anchor="middle">SHAP value</text>
<rect x="656.8" y="193.9" width="4.1" height="80.9" fill="url(#leg)"/>
<text transform="translate(650.9,234.6) rotate(-90)" font-size="11" fill="#000" text-anchor="middle">Feature value</text>
<text x="666.6" y="197.8" font-size="9" fill="#000">High</text>
<text x="666.6" y="278.2" font-size="9" fill="#000">Low</text>
</svg></body></html>
